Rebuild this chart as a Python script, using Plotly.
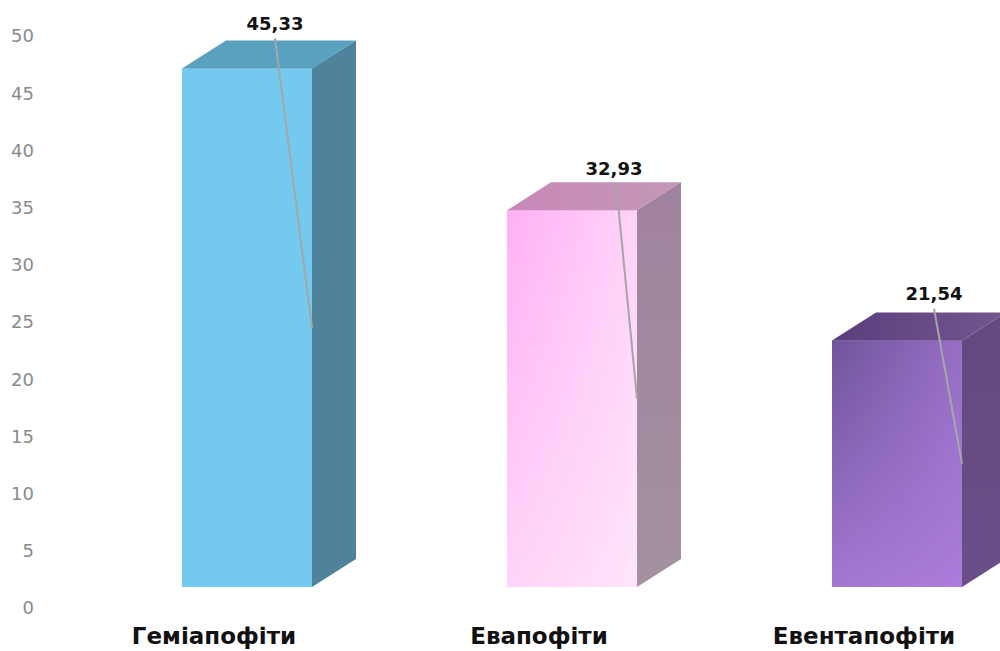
import plotly.graph_objects as go

# Life-form shares, one bar per group
categories = ["Геміапофіти", "Евапофіти", "Евентапофіти"]
values = [45.33, 32.93, 21.54]
value_labels = ["45,33", "32,93", "21,54"]
y_ticks = [0, 5, 10, 15, 20, 25, 30, 35, 40, 45, 50]

# Colours per bar
front_colors = ["#73C9EE", "#FFC4F6", "#9671C6"]
top_left = ["#5AA1C0", "#C888B8", "#5A3E7C"]
top_right = ["#5AA1C0", "#C498B8", "#74568F"]
side_upper = ["#4E839B", "#A1829E", "#64497F"]
side_lower = ["#4E839B", "#A4929F", "#6A4E88"]
front_v_top = ["#73C9EE", "#FFB0F5", "#70549A"]
front_v_bottom = ["#73C9EE", "#FFD4F8", "#A277D2"]
front_h_overlay = ["rgba(115,201,238,0)", "rgba(255,245,253,0.5)", "rgba(176,128,226,0.6)"]

# Box geometry in axis units
SLOT_PX = 325.0
UNIT_PX = 11.44
BAR_WIDTH = 130 / SLOT_PX
DEPTH_X = 44 / SLOT_PX
DEPTH_Y = 28 / UNIT_PX
FLOOR = 21 / UNIT_PX
LABEL_SHIFT = -33 / SLOT_PX

# Leader line and label placement relative to the bar's top right front corner
leader_dx = [-37 / SLOT_PX, -21 / SLOT_PX, -28 / SLOT_PX]
leader_dy = [30 / UNIT_PX, 28 / UNIT_PX, 32 / UNIT_PX]
label_dx = [-37 / SLOT_PX, -23 / SLOT_PX, -28 / SLOT_PX]
label_dy = [43 / UNIT_PX, 40 / UNIT_PX, 45 / UNIT_PX]

positions = list(range(len(categories)))
fig = go.Figure()

# Front faces
fig.add_trace(go.Bar(
    x=positions, y=values, base=[FLOOR] * len(values), width=BAR_WIDTH,
    marker=dict(color=front_colors, line_width=0), hoverinfo="skip",
))


def polygon(xs, ys, **kw):
    fig.add_trace(go.Scatter(
        x=xs + xs[:1], y=ys + ys[:1], mode="lines", fill="toself",
        line=dict(width=0), hoverinfo="skip", **kw,
    ))


for i, (p, v) in enumerate(zip(positions, values)):
    x0, x1 = p - BAR_WIDTH / 2, p + BAR_WIDTH / 2
    y0, y1 = FLOOR, FLOOR + v

    # Shading across the front: vertical ramp, then a translucent horizontal ramp
    polygon([x0, x1, x1, x0], [y0, y0, y1, y1], fillgradient=dict(
        type="vertical",
        colorscale=[[0, front_v_bottom[i]], [1, front_v_top[i]]],
    ))
    polygon([x0, x1, x1, x0], [y0, y0, y1, y1], fillgradient=dict(
        type="horizontal",
        colorscale=[[0, front_h_overlay[i].rsplit(",", 1)[0] + ",0)"], [1, front_h_overlay[i]]],
    ))

    # Top face
    polygon([x0, x1, x1 + DEPTH_X, x0 + DEPTH_X], [y1, y1, y1 + DEPTH_Y, y1 + DEPTH_Y], fillgradient=dict(
        type="horizontal",
        colorscale=[[0, top_left[i]], [1, top_right[i]]],
    ))

    # Side face
    polygon([x1, x1 + DEPTH_X, x1 + DEPTH_X, x1], [y0, y0 + DEPTH_Y, y1 + DEPTH_Y, y1], fillgradient=dict(
        type="vertical",
        colorscale=[[0, side_lower[i]], [1, side_upper[i]]],
    ))

    # Leader from the label down to the middle of the bar's front edge
    fig.add_trace(go.Scatter(
        x=[x1 + leader_dx[i], x1], y=[y1 + leader_dy[i], y0 + v / 2], mode="lines",
        line=dict(color="#A6A6A6", width=2), hoverinfo="skip",
    ))

    fig.add_trace(go.Scatter(
        x=[x1 + label_dx[i]], y=[y1 + label_dy[i]], mode="text", text=[value_labels[i]],
        textposition="middle center", hoverinfo="skip",
        textfont=dict(family="DejaVu Sans", size=18, color="#111111", weight=700),
    ))

fig.update_layout(
    width=1000, height=651, showlegend=False, barmode="overlay",
    paper_bgcolor="white", plot_bgcolor="white",
    margin=dict(l=40, r=0, t=0, b=31, pad=0),
    xaxis=dict(
        range=[-207 / SLOT_PX, -207 / SLOT_PX + 960 / SLOT_PX], automargin=False,
        tickvals=[p + LABEL_SHIFT for p in positions], ticktext=categories,
        showgrid=False, zeroline=False, showline=False, ticks="", ticklabelstandoff=0,
        tickfont=dict(family="DejaVu Sans", size=23, color="#111111", weight=700),
    ),
    yaxis=dict(
        range=[-12 / UNIT_PX, 50 + 36 / UNIT_PX], tickvals=y_ticks, automargin=False,
        showgrid=False, zeroline=False, showline=False, ticks="", ticklabelstandoff=5,
        tickfont=dict(family="DejaVu Sans", size=18, color="#8A8A8A"),
    ),
)

fig.write_html("out.html")
